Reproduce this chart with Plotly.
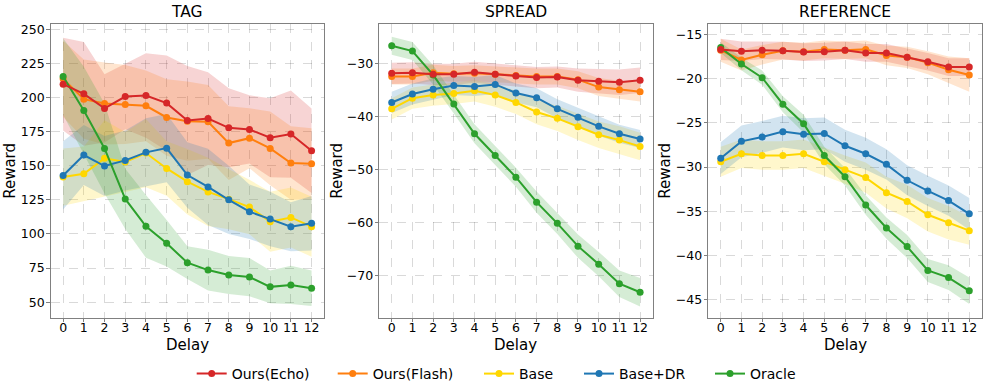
import plotly.graph_objects as go

delay = list(range(13))
series_names = ["Ours(Echo)", "Ours(Flash)", "Base", "Base+DR", "Oracle"]
colors = {"Ours(Echo)": "#d62728", "Ours(Flash)": "#ff7f0e", "Base": "#ffd700",
          "Base+DR": "#1f77b4", "Oracle": "#2ca02c"}

# ---- TAG ----
tag_echo = [209.8, 202.7, 192.0, 200.7, 201.5, 195.9, 183.2, 184.6, 177.8, 176.6, 170.5, 173.2, 161.0]
tag_flash = [213.7, 198.8, 195.6, 194.9, 193.9, 185.4, 182.7, 182.2, 166.6, 170.2, 162.7, 152.0, 151.5]
tag_base = [141.7, 144.1, 155.4, 152.7, 159.3, 148.0, 138.3, 130.8, 125.5, 119.7, 109.0, 112.1, 105.3]
tag_dr = [142.9, 157.8, 149.8, 153.9, 159.8, 162.9, 143.2, 134.5, 125.0, 116.3, 110.9, 105.3, 107.8]
tag_oracle = [215.4, 190.5, 162.7, 125.7, 105.6, 93.2, 78.9, 73.5, 69.9, 68.4, 61.2, 62.6, 60.2]
tag_echo_sd = [34, 38, 25, 24, 31, 35, 40, 34, 29, 25, 29, 32, 31]
tag_flash_sd = [28, 29, 30, 29, 26, 28, 29, 27, 27, 22, 27, 27, 26]
tag_base_sd = [21, 20, 28, 22, 25, 20, 24, 25, 22, 20, 22, 22, 22]
tag_dr_sd = [25, 22, 22, 22, 25, 25, 24, 28, 25, 20, 20, 18, 20]
tag_oracle_sd = [28, 32, 33, 22, 23, 17, 12, 15, 14, 14, 12, 14, 13]

# ---- SPREAD ----
spr_echo = [-31.9, -31.8, -32.1, -32.1, -31.7, -32.1, -32.4, -32.7, -32.6, -33.2, -33.4, -33.6, -33.2]
spr_flash = [-32.5, -32.5, -31.8, -32.0, -31.9, -32.1, -32.3, -32.5, -32.5, -33.1, -34.5, -35.0, -35.4]
spr_base = [-38.6, -36.6, -36.0, -35.7, -35.2, -36.0, -37.4, -39.2, -40.4, -42.0, -43.5, -44.5, -45.7]
spr_dr = [-37.4, -35.8, -34.9, -34.2, -34.4, -34.0, -35.6, -36.5, -38.6, -40.2, -41.9, -43.3, -44.3]
spr_oracle = [-26.7, -27.7, -32.2, -37.7, -43.3, -47.4, -51.5, -56.2, -60.2, -64.5, -67.9, -71.6, -73.2]
spr_echo_sd = [2.0, 2.0, 2.0, 2.0, 2.0, 2.0, 2.0, 2.0, 2.0, 2.2, 2.3, 2.4, 2.4]
spr_flash_sd = [1.5, 1.5, 1.5, 1.5, 1.5, 1.5, 1.5, 1.5, 1.5, 1.6, 1.7, 1.7, 1.8]
spr_base_sd = [2.0, 2.0, 2.0, 2.0, 2.0, 2.2, 2.2, 2.3, 2.4, 2.5, 2.5, 2.6, 2.6]
spr_dr_sd = [2.0, 2.0, 2.0, 1.8, 1.8, 1.8, 1.8, 1.8, 1.8, 1.8, 1.8, 1.7, 1.7]
spr_oracle_sd = [1.7, 1.7, 1.8, 1.8, 1.8, 1.8, 1.8, 2.0, 2.0, 2.2, 2.3, 2.5, 2.7]

# ---- REFERENCE ----
ref_echo = [-16.7, -16.9, -16.8, -16.85, -17.0, -16.96, -16.8, -17.1, -17.1, -17.6, -18.1, -18.7, -18.7]
ref_flash = [-16.8, -17.9, -17.3, -16.85, -16.96, -16.7, -16.8, -16.7, -17.4, -17.6, -18.2, -19.0, -19.6]
ref_base = [-29.4, -28.5, -28.7, -28.7, -28.5, -29.4, -30.3, -31.2, -32.9, -33.9, -35.4, -36.3, -37.2]
ref_dr = [-29.0, -27.1, -26.6, -26.0, -26.3, -26.2, -27.6, -28.5, -29.7, -31.5, -32.7, -33.8, -35.3]
ref_oracle = [-16.5, -18.35, -19.9, -22.9, -25.1, -28.7, -31.1, -34.3, -36.9, -39.0, -41.7, -42.5, -44.0]
ref_echo_sd = [1.2, 1.1, 1.0, 1.0, 1.0, 1.0, 1.0, 1.0, 1.0, 1.0, 1.0, 1.0, 1.0]
ref_flash_sd = [1.3, 1.2, 1.1, 1.0, 1.0, 1.0, 1.0, 1.0, 1.1, 1.2, 1.3, 1.5, 1.9]
ref_base_sd = [1.7, 1.6, 1.6, 1.6, 1.6, 1.6, 1.6, 1.7, 1.8, 1.9, 1.9, 1.9, 1.6]
ref_dr_sd = [1.8, 1.8, 1.8, 1.8, 1.8, 1.8, 1.8, 1.8, 1.7, 1.7, 1.7, 1.7, 1.8]
ref_oracle_sd = [0.6, 0.7, 0.8, 0.9, 1.0, 1.0, 1.0, 1.1, 1.2, 1.3, 1.3, 1.4, 1.5]

panels = [
    ("TAG", {"Ours(Echo)": (tag_echo, tag_echo_sd), "Ours(Flash)": (tag_flash, tag_flash_sd),
             "Base": (tag_base, tag_base_sd), "Base+DR": (tag_dr, tag_dr_sd),
             "Oracle": (tag_oracle, tag_oracle_sd)},
     [38.6, 253.9], [50, 75, 100, 125, 150, 175, 200, 225, 250]),
    ("SPREAD", {"Ours(Echo)": (spr_echo, spr_echo_sd), "Ours(Flash)": (spr_flash, spr_flash_sd),
                "Base": (spr_base, spr_base_sd), "Base+DR": (spr_dr, spr_dr_sd),
                "Oracle": (spr_oracle, spr_oracle_sd)},
     [-78.0, -22.6], [-70, -60, -50, -40, -30]),
    ("REFERENCE", {"Ours(Echo)": (ref_echo, ref_echo_sd), "Ours(Flash)": (ref_flash, ref_flash_sd),
                   "Base": (ref_base, ref_base_sd), "Base+DR": (ref_dr, ref_dr_sd),
                   "Oracle": (ref_oracle, ref_oracle_sd)},
     [-47.04, -13.83], [-45, -40, -35, -30, -25, -20, -15]),
]

W, H = 987, 392
x_px = [(50.7, 324.0), (379.3, 652.5), (708.3, 981.7)]
y_top, y_bot = 24.0, 317.7
ydom = [1 - y_bot / H, 1 - y_top / H]
reward_x = [10, 337, 665]
# pixel x where each legend entry's text starts in the reference
legend_text_x = [231.7, 372.7, 519.0, 619.0, 750.0]


def rgba(hexc, a):
    h = hexc.lstrip("#")
    r, g, b = int(h[0:2], 16), int(h[2:4], 16), int(h[4:6], 16)
    return f"rgba({r},{g},{b},{a})"


fig = go.Figure()
draw_order = ["Ours(Flash)", "Base", "Base+DR", "Oracle", "Ours(Echo)"]
FONT = "DejaVu Sans"
annotations = []
legend_ids = ["legend", "legend2", "legend3", "legend4", "legend5"]

for i, (title, data, yr, yticks) in enumerate(panels):
    xa = "x" if i == 0 else f"x{i+1}"
    ya = "y" if i == 0 else f"y{i+1}"
    # bands
    for name in series_names:
        m, sd = data[name]
        up = [a + b for a, b in zip(m, sd)]
        lo = [a - b for a, b in zip(m, sd)]
        fig.add_trace(go.Scatter(x=delay + delay[::-1], y=up + lo[::-1], fill="toself",
                                 fillcolor=rgba(colors[name], 0.2), line=dict(width=0),
                                 mode="lines", hoverinfo="skip", showlegend=False,
                                 xaxis=xa, yaxis=ya))
    for name in draw_order:
        m, sd = data[name]
        k = series_names.index(name)
        fig.add_trace(go.Scatter(x=delay, y=m, mode="lines+markers", name=name,
                                 line=dict(color=colors[name], width=2),
                                 marker=dict(color=colors[name], size=7),
                                 legend=legend_ids[k],
                                 showlegend=(i == 0), xaxis=xa, yaxis=ya))
    x0, x1 = x_px[i]
    axis_common = dict(showline=True, mirror=True, linecolor="#808080", linewidth=1.2,
                       ticks="outside", ticklen=3.5, tickcolor="#808080", tickwidth=1,
                       showgrid=True, gridcolor="rgba(0,0,0,0.15)", griddash="dash", gridwidth=0.8,
                       zeroline=False, tickfont=dict(family=FONT, size=12.5, color="black"),
                       automargin=False)
    fig.layout[("xaxis" if i == 0 else f"xaxis{i+1}")] = dict(
        domain=[x0 / W, x1 / W], range=[-0.6, 12.6], tickmode="array", tickvals=delay,
        anchor=ya, ticklabelstandoff=-5, **axis_common)
    fig.layout[("yaxis" if i == 0 else f"yaxis{i+1}")] = dict(
        domain=ydom, range=yr, tickmode="array", tickvals=yticks, anchor=xa,
        ticklabelstandoff=-1, **axis_common)
    cx = (x0 + x1) / 2 / W
    annotations.append(dict(text=title, x=cx, y=1 - 12 / H, xref="paper", yref="paper",
                            showarrow=False, xanchor="center", yanchor="middle",
                            font=dict(family=FONT, size=15.5, color="black")))
    annotations.append(dict(text="Delay", x=cx, y=1 - 344.5 / H, xref="paper", yref="paper",
                            showarrow=False, xanchor="center", yanchor="middle",
                            font=dict(family=FONT, size=15, color="black")))
    annotations.append(dict(text="Reward", x=reward_x[i] / W, y=1 - (y_top + y_bot) / 2 / H,
                            xref="paper", yref="paper", textangle=-90, showarrow=False,
                            xanchor="center", yanchor="middle",
                            font=dict(family=FONT, size=15, color="black")))

legend_layout = {}
for k, lid in enumerate(legend_ids):
    legend_layout[lid] = dict(orientation="h", x=(legend_text_x[k] - 40) / W, xanchor="left",
                              y=1 - 374 / H, yanchor="middle", borderwidth=0,
                              font=dict(family=FONT, size=14, color="black"),
                              bgcolor="rgba(0,0,0,0)", itemwidth=30)

fig.update_layout(
    width=W, height=H, margin=dict(l=0, r=0, t=0, b=0),
    paper_bgcolor="white", plot_bgcolor="white",
    annotations=annotations,
    font=dict(family=FONT),
    **legend_layout,
)

fig.write_html("out.html", config={"displayModeBar": False},
               post_script="document.body.style.margin='0';document.body.style.overflow='hidden';")
